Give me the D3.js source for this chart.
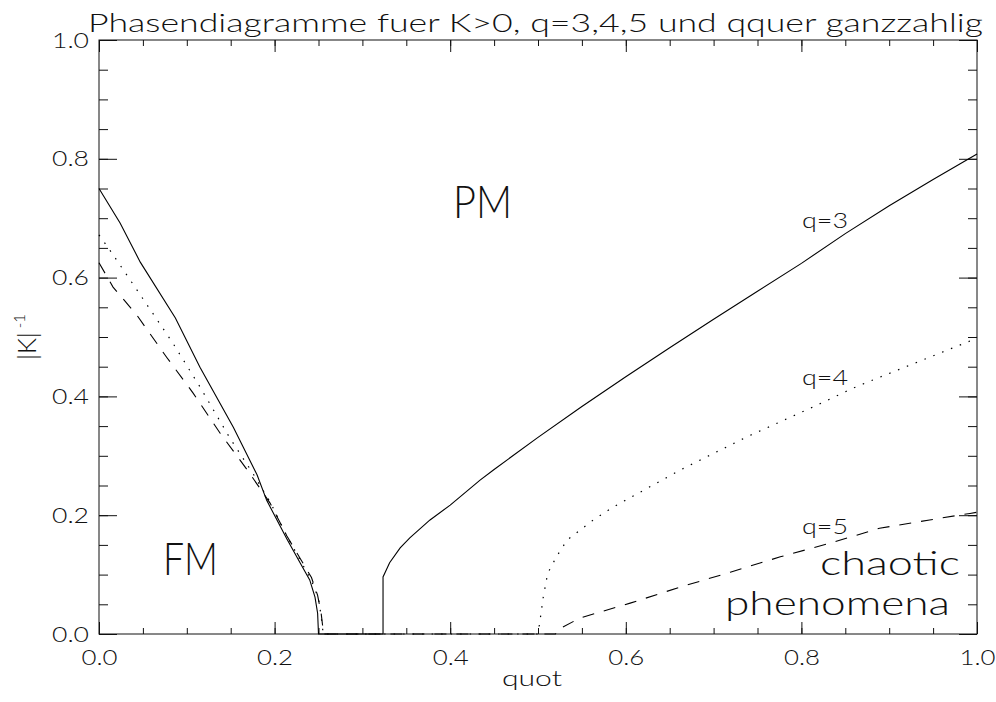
<!DOCTYPE html>
<html>
<head>
<meta charset="utf-8">
<script src="https://cdn.jsdelivr.net/npm/d3@7"></script>
<style>
  body { margin: 0; background: #fff; }
  text { font-family: Lato, "Open Sans", "DejaVu Sans", sans-serif; font-weight: 300; fill: #111; }
</style>
</head>
<body>
<svg width="996" height="702"></svg>
<script>
const title = "Phasendiagramme fuer K>0, q=3,4,5 und qquer ganzzahlig";
const xMajor = [0, 0.2, 0.4, 0.6, 0.8, 1.0];
const yMajor = [0, 0.2, 0.4, 0.6, 0.8, 1.0];
const minorTicks = d3.range(0, 21).map((i) => i * 0.05);

// q=3, solid
const q3 = [[0.000,0.750],[0.024,0.692],[0.047,0.626],[0.087,0.532],[0.115,0.449],[0.153,0.348],
  [0.180,0.268],[0.191,0.225],[0.214,0.160],[0.229,0.120],[0.240,0.091],[0.246,0.062],[0.249,0.035],
  [0.250,0.000],[0.3235,0.000],[0.3235,0.096],[0.331,0.120],[0.343,0.145],[0.354,0.162],[0.377,0.192],
  [0.400,0.217],[0.434,0.259],[0.450,0.277],[0.500,0.331],[0.550,0.383],[0.600,0.433],[0.650,0.482],
  [0.700,0.530],[0.750,0.577],[0.800,0.624],[0.850,0.674],[0.900,0.721],[0.950,0.765],[1.000,0.808]];

// q=4, dotted
const q4 = [[0.000,0.672],[0.0125,0.646],[0.047,0.571],[0.084,0.490],[0.115,0.416],[0.149,0.330],
  [0.175,0.271],[0.195,0.222],[0.214,0.165],[0.230,0.122],[0.242,0.090],[0.250,0.060],[0.253,0.030],
  [0.255,0.005],[0.255,0.000],[0.500,0.000],[0.503,0.030],[0.506,0.062],[0.511,0.102],[0.521,0.130],
  [0.533,0.158],[0.563,0.192],[0.586,0.214],[0.662,0.276],[0.738,0.332],[0.813,0.382],[0.859,0.414],
  [0.882,0.428],[0.995,0.495],[1.000,0.500]];

// q=5, dashed
const q5 = [[0.000,0.625],[0.016,0.584],[0.043,0.537],[0.077,0.466],[0.107,0.406],[0.138,0.338],
  [0.169,0.276],[0.195,0.220],[0.214,0.165],[0.230,0.125],[0.242,0.095],[0.249,0.065],[0.253,0.035],
  [0.255,0.010],[0.255,0.000],[0.520,0.000],[0.522,0.007],[0.548,0.027],[0.605,0.052],[0.662,0.079],
  [0.719,0.104],[0.776,0.130],[0.833,0.153],[0.889,0.178],[0.946,0.192],[0.992,0.203],[1.000,0.205]];

const curveLabels = [
  { text: "q=3", x: 802, y: 228, len: 46 },
  { text: "q=4", x: 802, y: 385, len: 46 },
  { text: "q=5", x: 802, y: 534, len: 46 }
];

const svg = d3.select("svg");
const x0 = 99, x1 = 977, y0 = 40, y1 = 634;

const xScale = d3.scaleLinear().domain([0, 1]).range([x0, x1]);
const yScale = d3.scaleLinear().domain([0, 1]).range([y1, y0]);

const axisStyle = (g) => {
  g.select(".domain").remove();
  g.selectAll("line").attr("stroke", "#111").attr("stroke-width", 1);
};

// bottom axis
svg.append("g")
  .attr("transform", "translate(0," + y1 + ")")
  .call(d3.axisBottom(xScale).tickValues(minorTicks).tickSize(-6).tickFormat(""))
  .call(axisStyle);
const xAxis = svg.append("g")
  .attr("transform", "translate(0," + y1 + ")")
  .call(d3.axisBottom(xScale).tickValues(xMajor).tickSize(-12).tickFormat(d3.format(".1f")))
  .call(axisStyle);
xAxis.attr("font-family", null).attr("font-size", 21);
xAxis.selectAll("text")
  .attr("y", 31).attr("dy", 0)
  .attr("textLength", 36).attr("lengthAdjust", "spacingAndGlyphs");

// top axis
svg.append("g")
  .attr("transform", "translate(0," + y0 + ")")
  .call(d3.axisTop(xScale).tickValues(minorTicks).tickSize(-6).tickFormat(""))
  .call(axisStyle);
svg.append("g")
  .attr("transform", "translate(0," + y0 + ")")
  .call(d3.axisTop(xScale).tickValues(xMajor).tickSize(-12).tickFormat(""))
  .call(axisStyle);

// left axis
svg.append("g")
  .attr("transform", "translate(" + x0 + ",0)")
  .call(d3.axisLeft(yScale).tickValues(minorTicks).tickSize(-9).tickFormat(""))
  .call(axisStyle);
const yAxis = svg.append("g")
  .attr("transform", "translate(" + x0 + ",0)")
  .call(d3.axisLeft(yScale).tickValues(yMajor).tickSize(-18).tickFormat(d3.format(".1f")))
  .call(axisStyle);
yAxis.attr("font-family", null).attr("font-size", 21);
yAxis.selectAll("text")
  .attr("x", -10).attr("dy", 7)
  .attr("textLength", 37).attr("lengthAdjust", "spacingAndGlyphs");

// right axis
svg.append("g")
  .attr("transform", "translate(" + x1 + ",0)")
  .call(d3.axisRight(yScale).tickValues(minorTicks).tickSize(-9).tickFormat(""))
  .call(axisStyle);
svg.append("g")
  .attr("transform", "translate(" + x1 + ",0)")
  .call(d3.axisRight(yScale).tickValues(yMajor).tickSize(-18).tickFormat(""))
  .call(axisStyle);

svg.append("rect")
  .attr("x", x0).attr("y", y0)
  .attr("width", x1 - x0).attr("height", y1 - y0)
  .attr("fill", "none").attr("stroke", "#111").attr("stroke-width", 1);

const line = d3.line().x((d) => xScale(d[0])).y((d) => yScale(d[1]));

svg.append("path").datum(q3)
  .attr("d", line).attr("fill", "none")
  .attr("stroke", "#000").attr("stroke-width", 1.1);
svg.append("path").datum(q4)
  .attr("d", line).attr("fill", "none")
  .attr("stroke", "#000").attr("stroke-width", 1.2)
  .attr("stroke-dasharray", "1.5,8");
svg.append("path").datum(q5)
  .attr("d", line).attr("fill", "none")
  .attr("stroke", "#000").attr("stroke-width", 1.1)
  .attr("stroke-dasharray", "12,10");

// texts
svg.append("text")
  .attr("x", 88).attr("y", 32)
  .attr("font-size", 25)
  .attr("textLength", 895).attr("lengthAdjust", "spacingAndGlyphs")
  .text(title);

svg.append("text")
  .attr("x", 502).attr("y", 686)
  .attr("font-size", 21)
  .attr("textLength", 60).attr("lengthAdjust", "spacingAndGlyphs")
  .text("quot");

const yLabel = svg.append("text")
  .attr("transform", "translate(36," + ((y0 + y1) / 2) + ") rotate(-90)")
  .attr("text-anchor", "middle")
  .attr("font-size", 25);
yLabel.append("tspan").text("|K|");
yLabel.append("tspan").attr("font-size", 15).attr("dx", 4).attr("dy", -11).text("-1");

svg.append("text")
  .attr("x", 453).attr("y", 218)
  .attr("font-size", 46)
  .attr("textLength", 59).attr("lengthAdjust", "spacingAndGlyphs")
  .text("PM");

svg.append("text")
  .attr("x", 163).attr("y", 575)
  .attr("font-size", 45)
  .attr("textLength", 55).attr("lengthAdjust", "spacingAndGlyphs")
  .text("FM");

svg.append("text")
  .attr("x", 820).attr("y", 575)
  .attr("font-size", 34)
  .attr("textLength", 140).attr("lengthAdjust", "spacingAndGlyphs")
  .text("chaotic");

svg.append("text")
  .attr("x", 725).attr("y", 615)
  .attr("font-size", 34)
  .attr("textLength", 225).attr("lengthAdjust", "spacingAndGlyphs")
  .text("phenomena");

svg.selectAll(".qlabel")
  .data(curveLabels)
  .enter().append("text")
  .attr("class", "qlabel")
  .attr("x", (d) => d.x).attr("y", (d) => d.y)
  .attr("font-size", 22)
  .attr("textLength", (d) => d.len).attr("lengthAdjust", "spacingAndGlyphs")
  .text((d) => d.text);
</script>
</body>
</html>
